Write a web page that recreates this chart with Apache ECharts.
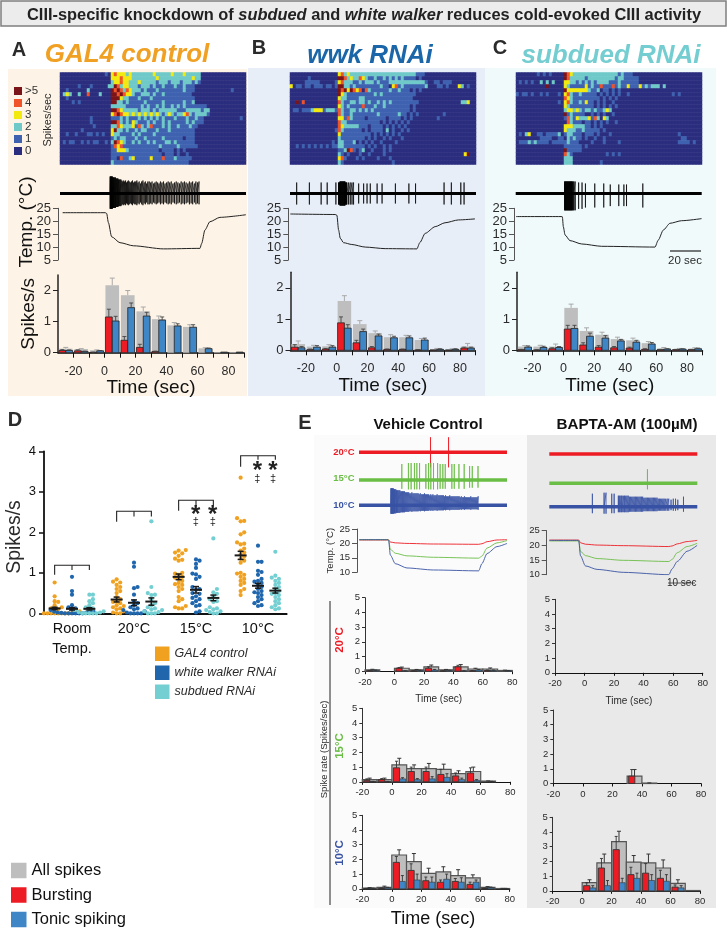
<!DOCTYPE html>
<html>
<head>
<meta charset="utf-8">
<style>
  html, body { margin: 0; padding: 0; background: #fff; }
  #main { width: 727px; height: 929px; }
</style>
<script src="https://cdn.jsdelivr.net/npm/echarts@6/dist/echarts.min.js"></script>
</head>
<body>
<div id="main"></div>
<script>
// heatmaps: one string per fly, one digit per time bin (0..5 spikes/s, 5 means >5)
var heatA = [
  '00000000000000010343332322222223222223222322222',
  '00000000000000000333433322222222322222222222322',
  '00000000000000000233433222322222122212221222121',
  '00000010001000002254233222122212112111211211100',
  '0010000002000000054542432221211121111111121110000000000001',
  '02320020040002000554543321122212112111111111000',
  '00100000000000000555322111211121111111111111100',
  '00001010000000000552212111112111112111111211200',
  '0000000000000000022222111112121121211212121111111',
  '00000000000000000554322222122212122222211122222122',
  '00000000000000000345433232323232321232122342122221',
  '0000000000100000011121211121212121211121112112110000000000001',
  '00000000001000000554212132111212112121111121211100',
  '00000000000100000224322231421241112121121112110',
  '00000001000000000352212112122111211121111111100',
  '00100100011010100322111121211112111111111111100',
  '00000000000000000121221112112111112111111011100',
  '01011001010110010254321121211212111221211111100',
  '00000000000000000143411111111111121111121111110',
  '00000000000000000113332111111111101111010100000',
  '00000000000000000111111111111111110111010010000',
  '00000000000000000110411231111131114111211111000',
  '00000000000000000211111111111111111111111110000'
];
var heatB = [
  '0000000000000000342322222222222222222222221110',
  '0000001000000000554232243211211212121211110100',
  '000001111100000134222112122212111222222222222100110111',
  '301101101110110155221211111111211034121111111200011010003201',
  '0000000000000000545354340421111112112111010100',
  '0000000000000000532111111111212111111111110000',
  '0000000000000000322111122111111111111111100000',
  '005040000000000042112212212112121211111111100000000000000223',
  '0000000000000000321211114111211211111111010000',
  '0110111233312221421122121212111111111111010000',
  '000000000000000042112111111112111111211010100000000100',
  '00000000000000003314211110111111011110101000000001',
  '0000000000000000422111111111110101010101000000',
  '0000000000000000432222211101111010101010000000',
  '0000000000000001421111110101111020100101000000',
  '0000000000000000311111111110101010101000000000',
  '0000000000000000211111111010100101000100000000',
  '0000000000000010221112010101001000010000000000',
  '0010101010101011221111111010100101000000000000',
  '0000000000000000112541012001000101000000000000',
  '000000000000000021010001001000010000000000000000000000000035',
  '0000000000000000341000101000010001000000000000',
  '0000000000000000210000000000000000100000000000'
];
var heatC = [
  '0000000101010000543222222222222222121110000000',
  '0000000000000000542222212222222221221111100000',
  '0101010020202000332212121212222111211111100000',
  '00000000005000003211111312114111412113111312122202',
  '0000000000000000533333332112011010100000000000',
  '101101001010001034211211111010101010010000000000000010100',
  '0000000000000000432111111111010101000000000000',
  '0000000000000010342112131101010010000000000000',
  '0000000000000000321111111101010101000000000000',
  '0000000000000000233232122121123200000000000000',
  '0000000000000000512111100101010010000000000000',
  '0000000000000000142132223142032000000000000000',
  '0000000000000000042111011010101001000000000000',
  '0000000000000000333222211010100000000000000000',
  '0000000000000000322211211111010000000000000000',
  '010230011011112012211101110100010000000000000000000000100000',
  '000000001111001102121101001001000000000000000000000000011000',
  '011121211110111112111000010001000010000000000000000000111101',
  '0000000000000000111111010000000000000000000000',
  '0000000000000000511111000000000000000000000000',
  '0000000000000000421000000000001010100000000000',
  '0000000000000000222000000000000000000000000000',
  '0000000000000000222000000000100000000000000000'
];
var heatColumns = 62;

// extracellular traces: spike times (sec) and spike heights
var spikesA = [3.6,3.9,4.2,4.5,4.8,5.1,5.4,5.7,6,6.3,6.7,7.1,7.5,7.9,8.3,8.7,9.1,9.6,10.1,10.6,11.2,11.8,12.4,13,13.6,14.2,14.8,15.4,16,16.7,17.4,18.1,18.8,19.5,20.2,20.9,21.6,22.4,23.2,24,24.8,25.6,26.4,27.2,28,28.9,29.8,30.7,31.6,32.5,33.4,34.3,35.2,36.1,37.1,38.1,39.1,40.1,41.1,42.1,43.1,44.2,45.2,46.3,47.4,48.4,49.5,50.6,51.6,52.7,53.8,54.8,55.9,56.9,58,59,60,61];
var heightsA = [17,17,17,17,17,17,16,16,16,16,16,16,15,15,15,15,14,14,14,14,13,12,13,12,13,11,12,13,12,11,12,13,11,12,12,13,11,12,10,12,13,11,12,10,12,12,11,12,10,11,12,11,10,12,11,12,10,11,12,11,12,10,11,12,11,10,12,11,12,11,10,12,11,12,10,12,11,12];
var spikesB = [-25.7,-17.5,-9.9,-6,-0.4,1.3,1.6,1.9,2.2,2.5,2.8,3.1,3.4,3.7,4,4.3,4.6,4.9,5.2,5.5,5.8,6.1,6.4,6.7,7.8,8.9,10,11,14.3,17.5,19.7,21.8,26.2,29.4,38,46.7,51,69.4,74.1,80.2,82.3];
var heightsB = [11,11,11,11,11,11,11,11,12,12,12,12,12,12,12,12,12,12,12,12,11,11,11,11,11,11,11,11,10,10,10,10,10,10,10,10,10,11,11,11,11];
var spikesC = [1.5,1.8,2.1,2.4,2.7,3,3.3,3.6,3.9,4.2,4.5,4.8,5.1,5.4,5.7,6,6.3,6.7,7.1,7.6,8.4,10.6,12.8,15,21,26.8,31,36.5,39.8,41.5,52];
var heightsC = [12,12,12,12,12,12,12,12,12,12,12,12,12,12,12,12,12,12,12,12,12,11,11,10,10,10,9,9,9,9,10];
var spikesVeh20 = [28,40];
var heightsVeh20 = [15,15];
var spikesVeh15 = [8.9,13.3,15.1,17.3,18.9,20.7,24.9,26.7,28.2,30,32.7,34.4,36.2,37.8,42.2,43.8,46.9,50.4,54,55.8,59.6];
var heightsVeh15 = [16,17,17,17,17,17,16,17,17,17,17,16,16,16,16,16,16,16,14,14,14];
var spikesVeh10 = [1.6,2,2.4,2.8,3.2,3.6,4,4.4,4.9,5.4,5.9,6.4,7,7.6,8.2,8.8,9.4,10,10.7,11.4,12.1,12.8,13.5,14.2,14.9,15.6,16.3,17,17.7,18.4,19.1,19.8,20.5,21.2,21.9,22.6,23.3,24,24.7,25.4,26.1,26.8,27.5,28.2,28.9,29.6,30.3,31,31.7,32.4,33.1,33.8,34.5,35.2,35.9,36.6,37.3,38,38.7,39.4,40.1,40.8,41.5,42.2,42.9,43.6,44.3,45,45.7,46.4,47.1,47.8,48.5,49.2,49.9,50.6,51.3,52,52.7,53.4,54.1,54.8,55.5,56.2,56.9,57.6,58.3,59,59.7];
var heightsVeh10 = [17,17,17,17,17,16,16,16,16,15,15,15,15,15,14,14,14,14,14,13,13,13,13,12,12,13,12,12,12,12,12,12,11,12,11,11,11,12,11,11,11,11,10,11,10,11,10,10,10,11,10,10,10,10,10,10,9,10,9,9,9,10,9,9,9,9,9,9,9,9,9,8,9,8,8,9,8,8,8,8,8,9,8,8,8,8,8,8,9];
var spikesBap20 = [];
var heightsBap20 = [];
var spikesBap15 = [45.8];
var heightsBap15 = [14];
var spikesBap10 = [9.1,16.9,18.2,22,23.6,26.4,27,27.6,28.4,29,30,30.6,31.4,32.2,33,33.8,34.6,35.4,36.2,37,37.8,38.6,39.4,40.2,41,41.8,42.6,43.4,44.2,45,45.8,46.6,47.4,48.2,49,49.8,50.6,51.4,52.2,53,53.8,54.6,55.4,56.2,57,58,59,60,61.5,63,64.5,66,69.8];
var heightsBap10 = [13,14,14,13,13,11,11,11,11,11,11,11,11,11,11,10,10,10,10,10,10,10,10,10,10,10,10,9,9,9,9,9,9,9,9,9,9,9,9,8,8,8,8,8,8,8,8,8,7,8,8,7,10];

// bath temperature curves
var tempTimeA = [-27,0.5,1.4,2.5,4.6,10,18.6,38,61.6,62.7,64.8,68,74.5,91.2];
var tempA = [23.3,23.3,23,19.5,14,11.7,10.5,9.3,9.5,11.4,16.6,19.8,21.5,22.5];
var tempTimeB = [-30.3,-1.1,0,1.1,2.2,4.3,9.7,18.4,31.4,52,54,57.4,63.9,70.3,79,89.8];
var tempB = [22.8,22.6,22.3,16.6,13.4,11.7,11,10,9.4,9.3,11.8,15.3,17.9,19.4,20.5,20.9];
var tempTimeC = [-30.6,-1.5,-0.6,0,1.1,4.3,11.9,24.8,59.3,61.4,64.7,69,76.5,89.4];
var tempC = [21.8,21.8,21.7,17.9,14.7,12.5,11.2,10.3,10,12.7,16.6,19.2,20.2,21];
var tempTimeE = [-19.6,-0.5,0,1.1,4.4,12.2,30,60,62.2,65.6,72.2,78.9];
var tempVeh20 = [21.2,21.2,21.2,20.5,20.2,20,19.8,19.7,19.9,20.6,21.2,21.3];
var tempVeh15 = [21.3,21.3,21.2,18,16.6,15.7,15.2,14.9,15.6,18.4,20.2,21];
var tempVeh10 = [21.3,21.3,21,16,13,11.5,10.8,10.5,13,16.5,18.9,20];
var tempBap20 = [21.8,21.8,21.8,20.9,20.4,20.1,19.9,19.6,19.8,20.5,21.3,21.7];
var tempBap15 = [21.5,21.5,21.4,18,16.5,15.5,14.9,14.5,15.2,17.5,19.6,20.7];
var tempBap10 = [21.7,21.7,21.5,16.5,13,11.8,10.8,10,12,14.5,18,20];

// spike rate bars, panels A-C (tops of the error bars kept as absolute values)
var bins = [-30,-20,-10,0,10,20,30,40,50,60,70,80];
var allA = [.13,.12,.08,2.17,1.85,1.33,1.08,.88,.83,.14,.02,.02];
var allAErr = [.17,.13,.09,2.4,2,1.47,1.18,.97,.9,.16,.02,.02];
var burstA = [.07,.06,.01,1.15,.4,.17,.04,0,0,0,0,0];
var burstAErr = [.1,.09,.02,1.4,.52,.27,.05,0,0,0,0,0];
var tonicA = [.07,.04,.06,1.02,1.45,1.18,1.05,.86,.82,.13,.02,.02];
var tonicAErr = [.09,.05,.07,1.17,1.6,1.3,1.15,.93,.9,.15,.02,.02];
var allB = [.2,.12,.13,1.58,.84,.55,.42,.42,.33,.04,.03,.12];
var allBErr = [.3,.16,.18,1.75,.95,.62,.5,.48,.38,.06,.05,.22];
var burstB = [.1,.02,.04,.88,.24,.08,.03,.03,.01,.01,.01,.07];
var burstBErr = [.18,.04,.06,1.07,.32,.12,.04,.04,.02,.01,.01,.1];
var tonicB = [.08,.1,.1,.71,.6,.46,.4,.4,.33,.03,.03,.07];
var tonicBErr = [.12,.15,.15,.82,.68,.52,.45,.46,.39,.05,.05,.1];
var allC = [.12,.12,.12,1.36,.62,.5,.36,.32,.23,.06,.04,.05];
var allCErr = [.15,.16,.2,1.48,.72,.58,.42,.39,.28,.09,.06,.08];
var burstC = [.02,.01,.05,.68,.17,.1,.08,.07,.03,.02,.02,.02];
var burstCErr = [.03,.02,.08,.8,.24,.15,.12,.1,.05,.03,.03,.03];
var tonicC = [.1,.09,.09,.7,.45,.39,.3,.26,.2,.04,.04,.05];
var tonicCErr = [.14,.13,.12,.8,.55,.47,.35,.32,.25,.05,.05,.07];

// spike rate bars, panel E
var binsE = [-20,-10,0,10,20,30,40,50,60,70];
var allVeh20 = [.1,0,.2,.1,.3,.1,.3,.15,.15,.05];
var allVeh20Err = [.13,0,.28,.12,.42,.12,.45,.2,.22,.07];
var burstVeh20 = [.03,0,.2,.02,.2,.02,.3,.03,.05,0];
var burstVeh20Err = [.05,0,.25,.03,.3,.03,.4,.05,.08,0];
var tonicVeh20 = [.05,0,.02,.05,.08,.05,.02,.08,.05,.03];
var tonicVeh20Err = [.08,0,.03,.07,.12,.07,.03,.12,.08,.05];
var allVeh15 = [.15,.15,1.15,.9,.9,.85,.55,.7,.05,0];
var allVeh15Err = [.25,.25,1.6,1.15,1.25,1.2,.75,1,.06,0];
var burstVeh15 = [.1,.15,.95,.7,.7,.5,.4,.6,0,0];
var burstVeh15Err = [.2,.22,1.4,1,1,.85,.6,.95,0,0];
var tonicVeh15 = [.02,.02,.2,.15,.2,.3,.15,.1,.02,0];
var tonicVeh15Err = [.03,.03,.28,.22,.35,.55,.25,.15,.03,0];
var allVeh10 = [.05,.1,2.3,1.85,1.05,1.15,.9,.75,.1,.02];
var allVeh10Err = [.08,.18,2.65,2.4,1.4,1.5,1.3,.95,.15,.03];
var burstVeh10 = [.02,.03,1.8,1.25,.55,.45,.5,.3,.03,0];
var burstVeh10Err = [.03,.05,2.2,1.7,.8,.6,.7,.45,.05,0];
var tonicVeh10 = [.03,.07,.5,.6,.45,.65,.45,.45,.08,.02];
var tonicVeh10Err = [.05,.1,.9,1,.8,1,.75,.6,.12,.03];
var allBap20 = [0,0,0,0,0,0,0,0,0,0];
var allBap15 = [0,0,0,0,0,.5,.03,0,0,0];
var allBap15Err = [0,0,0,0,0,.95,.04,0,0,0];
var burstBap15 = [0,0,0,0,0,.5,0,0,0,0];
var burstBap15Err = [0,0,0,0,0,.95,0,0,0,0];
var tonicBap15 = [0,0,0,0,0,0,0,0,0,0];
var allBap10 = [0,0,.55,1.9,3.35,1.95,1.9,1.55,.5,.02];
var allBap10Err = [0,0,.75,2.5,4.05,2.4,2.5,2.1,.75,.02];
var burstBap10 = [0,0,.35,1.55,2.8,1.1,1.2,.85,.25,0];
var burstBap10Err = [0,0,.55,2.2,3.7,1.6,1.85,1.4,.4,0];
var tonicBap10 = [0,0,.2,.35,.55,.85,.7,.65,.2,0];
var tonicBap10Err = [0,0,.35,.7,.85,1.2,1.1,1.1,.35,0];

// panel D, one array per genotype per temperature
var groupLabels = ['Room\nTemp.', '20°C', '15°C', '10°C'];
var gal4Dots = [
  [.76,.42,.3,.28,.2,.15,.12,.1,.1,.08,.05,.05,.03,.02,.02,0,0,0,0,0,0,0,0,0],
  [.84,.78,.76,.7,.65,.6,.55,.5,.4,.35,.3,.28,.25,.2,.18,.15,.12,.1,.05,.02,0,0],
  [1.56,1.55,1.5,1.48,1.42,1.35,1.32,1.3,1,.98,.95,.9,.88,.85,.8,.75,.72,.7,.65,.6,.55,.4,.35,.3,.18,.15,.12,.12],
  [3.35,2.35,2.28,2.27,2,1.95,1.75,1.72,1.7,1.6,1.55,1.5,1.45,1.4,1.35,1.3,1.25,1,.98,.95,.9,.85,.8,.75,.7,.6,.55,.45]
];
var wwkDots = [
  [.9,.55,.46,.2,.15,.12,.1,.08,.05,.04,.03,.02,.02,.01,0,0,0,0,0,0],
  [1.25,1.15,.65,.62,.46,.3,.25,.2,.15,.12,.1,.08,.05,.02,0,0,0,0],
  [1.33,1.3,1.22,1.12,.98,.96,.9,.85,.65,.6,.58,.5,.48,.42,.38,.35,.3,.25,.2,.18,.05,.02],
  [1.67,1.27,1.27,1.05,1.02,.95,.85,.8,.78,.75,.7,.65,.6,.55,.52,.5,.45,.4,.35,.3,.25,.2,.18]
];
var subduedDots = [
  [.46,.46,.35,.3,.25,.2,.15,.12,.1,.08,.05,.03,.02,0,0,0,0,0],
  [2.27,.65,.5,.46,.45,.35,.25,.2,.15,.12,.1,.08,.05,.03,0,0,0],
  [1.85,.6,.52,.48,.42,.35,.3,.28,.15,.12,.1,.08,.05,.03,0,0],
  [1.52,.93,.88,.85,.8,.75,.7,.65,.6,.55,.5,.48,.45,.4,.35,.3,.25,.2,.15,.12,.1]
];
var gal4Mean = [.12,.34,.9,1.43];
var gal4Sem = [.03,.06,.07,.1];
var wwkMean = [.11,.26,.58,.68];
var wwkSem = [.03,.07,.08,.06];
var subduedMean = [.11,.29,.38,.56];
var subduedSem = [.03,.09,.07,.06];
var bracketTop = [1.185,2.52,2.79,3.89];
var bracketLeftEnd = [.95,2.26,2.53,3.62];
var bracketRightEnd = [1.07,2.39,2.67,3.79];

var RED = '#ed1c24', BLUE = '#3f86c6', GRAY = '#bebebe';
var FONT = 'Liberation Sans';
var DARK = '#2b2b2b';

var grids = [], xAxes = [], yAxes = [], series = [], gfx = [];

function addGrid(left, top, width, height, x, y) {
  var i = grids.length;
  grids.push({left: left, top: top, width: width, height: height, containLabel: false});
  x.gridIndex = i; y.gridIndex = i;
  x.axisLine = x.axisLine || {}; x.axisLine.onZero = false;
  y.axisLine = y.axisLine || {}; y.axisLine.onZero = false;
  xAxes.push(x); yAxes.push(y);
  return i;
}
function hiddenValue(min, max) {
  return {type: 'value', min: min, max: max, show: false, splitLine: {show: false}};
}
function txt(text, x, y, size, opt) {
  opt = opt || {};
  gfx.push({
    type: 'text', x: x, y: y, rotation: opt.rotate ? Math.PI / 2 : 0, z: 50,
    style: {
      text: text, fill: opt.color || DARK, textAlign: opt.align || 'center', textVerticalAlign: 'middle',
      fontFamily: FONT, fontSize: size, fontWeight: opt.bold ? 'bold' : 'normal', fontStyle: opt.italic ? 'italic' : 'normal'
    }
  });
}
function bg(x, y, w, h, color) {
  gfx.push({type: 'rect', z: -10, shape: {x: x, y: y, width: w, height: h}, style: {fill: color}});
}
function hline(x1, y1, x2, y2, color, w) {
  gfx.push({type: 'line', z: 50, shape: {x1: x1, y1: y1, x2: x2, y2: y2}, style: {stroke: color, lineWidth: w}});
}

function addHeat(rows, left, top) {
  var cols = [], rowIds = [], data = [];
  for (var c = 0; c < heatColumns; c++) cols.push(c);
  rows.forEach(function (row, r) {
    rowIds.push(r);
    var full = row.padEnd(heatColumns, '0');
    for (var c = 0; c < heatColumns; c++) data.push([c, r, +full[c]]);
  });
  var g = addGrid(left, top, 186, 92,
    {type: 'category', data: cols, show: false},
    {type: 'category', data: rowIds, inverse: true, show: false});
  series.push({type: 'heatmap', xAxisIndex: g, yAxisIndex: g, data: data, silent: true, itemStyle: {borderWidth: 0}, emphasis: {disabled: true}});
  return series.length - 1;
}

function addTrace(times, heights, left, top, width, height, xMin, xMax, center, down, color, baseW, spikeW) {
  var g = addGrid(left, top, width, height, hiddenValue(xMin, xMax), hiddenValue(-(top + height - center), center - top));
  series.push({type: 'line', xAxisIndex: g, yAxisIndex: g, symbol: 'none', silent: true, animation: false,
    lineStyle: {color: color, width: baseW}, data: [[xMin, 0], [xMax, 0]]});
  var pts = [];
  times.forEach(function (t, i) {
    var h = heights[i];
    pts.push([t, 0], [t, h], [t, -h * down], [t, 0]);
  });
  if (pts.length) {
    series.push({type: 'line', xAxisIndex: g, yAxisIndex: g, symbol: 'none', silent: true, z: 3,
      lineStyle: {color: color, width: spikeW}, data: pts});
  }
}

function tempAxisY(min, labelSize, name, gap) {
  return {
    type: 'value', min: min, max: 25, interval: 5, name: name, nameLocation: 'middle', nameGap: gap,
    nameTextStyle: {fontFamily: FONT, fontSize: labelSize, color: DARK},
    axisLine: {show: true, lineStyle: {color: '#555', width: 1}}, axisTick: {show: true, length: 5, lineStyle: {color: '#555'}},
    axisLabel: {fontFamily: FONT, fontSize: labelSize, color: DARK, margin: 7}, splitLine: {show: false}
  };
}

function addCurve(g, times, temps, color, width) {
  series.push({
    type: 'line', xAxisIndex: g, yAxisIndex: g, symbol: 'none', silent: true, smooth: 0.25, smoothMonotone: 'x',
    lineStyle: {color: color, width: width}, data: times.map(function (t, i) { return [t, temps[i]]; })
  });
}

function barItem(from, to, stroke, strokeW, errColor, errW, capHalf) {
  return function (params, api) {
    var t = api.value(0), v = api.value(1), e = api.value(2);
    var children = [];
    if (v > 0) {
      var a = api.coord([t + from, v]), b = api.coord([t + to, 0]);
      children.push({type: 'rect', shape: {x: a[0], y: a[1], width: b[0] - a[0], height: b[1] - a[1]},
        style: {fill: api.visual('color'), stroke: stroke, lineWidth: strokeW}});
      if (e > v) {
        var mid = (from + to) / 2, p = api.coord([t + mid, v]), q = api.coord([t + mid, e]);
        children.push({type: 'polyline', shape: {points: [[p[0], p[1]], [q[0], q[1]]]}, style: {stroke: errColor, lineWidth: errW, fill: null}});
        children.push({type: 'polyline', shape: {points: [[q[0] - capHalf, q[1]], [q[0] + capHalf, q[1]]]}, style: {stroke: errColor, lineWidth: errW, fill: null}});
      }
    }
    return {type: 'group', children: children};
  };
}
function addBars(g, name, binList, vals, errs, color, item) {
  series.push({
    type: 'custom', name: name, xAxisIndex: g, yAxisIndex: g, clip: false, silent: true,
    itemStyle: {color: color}, encode: {x: 0, y: 1}, renderItem: item,
    data: binList.map(function (b, i) { return [b, vals[i], errs ? errs[i] : 0]; })
  });
}

function addTopPanel(o) {
  var heatIdx = addHeat(o.heat, o.heatLeft, 72.5);
  addTrace(o.spikes, o.heights, o.traceLeft, 176, 186, 36, o.traceMin, o.traceMin + 120, 193.5, o.down, '#000', 3, 0.7);
  var tg = addGrid(o.tempLeft, 208.3, o.tempWidth, 51.7, hiddenValue(o.tempMin, o.tempMax), tempAxisY(5, 13, '', 0));
  addCurve(tg, o.tempT, o.temp, '#222', 1);
  var bg_ = addGrid(o.barLeft, o.barTop, o.barWidth, o.barH, {
    type: 'value', min: -30, max: 90, splitLine: {show: false},
    axisLine: {show: true, lineStyle: {color: '#111', width: 1.5}},
    axisTick: {show: true, customValues: [-20,-10,0,10,20,30,40,50,60,70,80,90], length: 5, lineStyle: {color: '#111', width: 1}},
    axisLabel: {customValues: [-20,0,20,40,60,80], fontFamily: FONT, fontSize: 12.5, color: DARK, margin: 12},
    name: 'Time (sec)', nameLocation: 'middle', nameGap: 26, nameTextStyle: {fontFamily: FONT, fontSize: 19, color: '#111'}
  }, {
    type: 'value', min: 0, max: 2.5, splitLine: {show: false},
    axisLine: {show: true, lineStyle: {color: '#222', width: 1.5}},
    axisTick: {show: true, customValues: [0,1,2], length: 5, lineStyle: {color: '#222'}},
    axisLabel: {customValues: [0,1,2], fontFamily: FONT, fontSize: 13, color: DARK, margin: 7},
    name: o.yName || '', nameLocation: 'middle', nameGap: 20, nameTextStyle: {fontFamily: FONT, fontSize: 19, color: '#111'}
  });
  addBars(bg_, 'All spikes', bins, o.all, o.allErr, GRAY, barItem(0.6, 9.4, null, 0, '#a9a9a9', 1, 2.5));
  addBars(bg_, 'Bursting', bins, o.burst, o.burstErr, RED, barItem(0.6, 5, '#222', 0.8, '#444', 0.9, 2));
  addBars(bg_, 'Tonic spiking', bins, o.tonic, o.tonicErr, BLUE, barItem(5, 9.4, '#222', 0.8, '#444', 0.9, 2));
  return heatIdx;
}

// backgrounds
bg(8, 69, 239, 327, '#fdf3e6');
bg(248, 68, 237, 328, '#e8eef8');
bg(485, 68, 231, 328, '#f1fafb');
bg(314, 435, 213, 473, '#fbfbfb');
bg(527, 435, 189, 473, '#e9e9e9');
gfx.push({type: 'rect', z: -5, shape: {x: 1, y: 1, width: 725, height: 25}, style: {fill: '#ececec', stroke: '#7f7f7f', lineWidth: 1.5}});

var heatSeries = [];
heatSeries.push(addTopPanel({
  heat: heatA, heatLeft: 60, traceLeft: 60, spikes: spikesA, heights: heightsA, traceMin: -28.7, down: 0.9,
  tempLeft: 58, tempWidth: 188, tempMin: -30, tempMax: 91.3, tempT: tempTimeA, temp: tempA,
  barLeft: 58, barTop: 275, barWidth: 186, barH: 77.7, all: allA, allErr: allAErr, burst: burstA, burstErr: burstAErr, tonic: tonicA, tonicErr: tonicAErr,
  yName: 'Spikes/s'
}));
heatSeries.push(addTopPanel({
  heat: heatB, heatLeft: 290, traceLeft: 290, spikes: spikesB, heights: heightsB, traceMin: -30, down: 1,
  tempLeft: 288.3, tempWidth: 186.7, tempMin: -31.6, tempMax: 89.8, tempT: tempTimeB, temp: tempB,
  barLeft: 290.5, barTop: 272.3, barWidth: 184.8, barH: 78, all: allB, allErr: allBErr, burst: burstB, burstErr: burstBErr, tonic: tonicB, tonicErr: tonicBErr
}));
heatSeries.push(addTopPanel({
  heat: heatC, heatLeft: 516, traceLeft: 515.7, spikes: spikesC, heights: heightsC, traceMin: -30, down: 1.4,
  tempLeft: 514, tempWidth: 187.7, tempMin: -31.9, tempMax: 89.5, tempT: tempTimeC, temp: tempC,
  barLeft: 517, barTop: 272.3, barWidth: 185.5, barH: 78, all: allC, allErr: allCErr, burst: burstC, burstErr: burstCErr, tonic: tonicC, tonicErr: tonicCErr
}));

// panel E traces
var E_RED = '#ed1c24', E_GREEN = '#6abd45', E_BLUE = '#3953a4';
var traceRows = [
  [spikesVeh20, heightsVeh20, 359, -19.6, 452.3, 1, E_RED, 78.9],
  [spikesVeh15, heightsVeh15, 359, -19.6, 480, 0.55, E_GREEN, 78.9],
  [spikesVeh10, heightsVeh10, 359, -19.6, 505.3, 0.5, E_BLUE, 78.9],
  [spikesBap20, heightsBap20, 549.3, -19.6, 454, 1, E_RED, 79],
  [spikesBap15, heightsBap15, 549.3, -19.6, 483.3, 0.43, E_GREEN, 79],
  [spikesBap10, heightsBap10, 549.3, -19.6, 506.7, 0.5, E_BLUE, 79]
];
traceRows.forEach(function (r) {
  addTrace(r[0], r[1], r[2], r[4] - 18, 148, 36, r[3], r[7], r[4], r[5], r[6], 3.4, 0.8);
});

// panel E temperature
var tv = addGrid(357, 529, 150, 43.3, hiddenValue(-21.1, 78.9), tempAxisY(10, 9.5, 'Temp. (°C)', 20));
addCurve(tv, tempTimeE, tempVeh20, E_RED, 0.9);
addCurve(tv, tempTimeE, tempVeh15, E_GREEN, 0.9);
addCurve(tv, tempTimeE, tempVeh10, E_BLUE, 0.9);
var tb = addGrid(546.7, 530.7, 150.6, 44, hiddenValue(-21.4, 79), tempAxisY(10, 9.5, '', 0));
addCurve(tb, tempTimeE, tempBap20, E_RED, 0.9);
addCurve(tb, tempTimeE, tempBap15, E_GREEN, 0.9);
addCurve(tb, tempTimeE, tempBap10, E_BLUE, 0.9);

// panel E bars
function addRatePanel(left, top, width, name, all, allErr, burst, burstErr, tonic, tonicErr) {
  var g = addGrid(left, top, width, 73.5, {
    type: 'value', min: -20, max: 80, splitLine: {show: false},
    axisLine: {show: true, lineStyle: {color: '#111', width: 1.2}},
    axisTick: {show: true, customValues: [-20,0,20,40,60,80], length: 3, lineStyle: {color: '#111'}},
    axisLabel: {customValues: [-20,0,20,40,60,80], fontFamily: FONT, fontSize: 9.5, color: DARK, margin: 6},
    name: name, nameLocation: 'middle', nameGap: 23, nameTextStyle: {fontFamily: FONT, fontSize: 10, color: DARK}
  }, {
    type: 'value', min: 0, max: 5, interval: 1, splitLine: {show: false},
    axisLine: {show: true, lineStyle: {color: '#333', width: 1}},
    axisTick: {show: true, length: 3, lineStyle: {color: '#333'}},
    axisLabel: {fontFamily: FONT, fontSize: 9.5, color: DARK, margin: 5}
  });
  addBars(g, 'All spikes', binsE, all, allErr, GRAY, barItem(0, 10, '#555', 1.2, '#333', 1, 2));
  if (burst) addBars(g, 'Bursting', binsE, burst, burstErr, RED, barItem(1, 5.2, '#333', 0.9, '#333', 0.9, 1.5));
  if (tonic) addBars(g, 'Tonic spiking', binsE, tonic, tonicErr, BLUE, barItem(5.2, 9.2, '#333', 0.6, '#333', 0.9, 1.5));
}
addRatePanel(365, 597.7, 147.3, 'Time (sec)', allVeh20, allVeh20Err, burstVeh20, burstVeh20Err, tonicVeh20, tonicVeh20Err);
addRatePanel(362.3, 708.3, 148, '', allVeh15, allVeh15Err, burstVeh15, burstVeh15Err, tonicVeh15, tonicVeh15Err);
addRatePanel(362.3, 815.3, 147.4, '', allVeh10, allVeh10Err, burstVeh10, burstVeh10Err, tonicVeh10, tonicVeh10Err);
addRatePanel(555, 599.3, 147.7, 'Time (sec)', allBap20, null, null, null, null, null);
addRatePanel(553.3, 710, 147.7, '', allBap15, allBap15Err, burstBap15, burstBap15Err, tonicBap15, null);
addRatePanel(552.7, 817.3, 147.3, '', allBap10, allBap10Err, burstBap10, burstBap10Err, tonicBap10, tonicBap10Err);

// panel D
var groupPx = 62, memberGap = 0.28, pxPerUnit = 40.5, dotSize = 4.2;
var gD = addGrid(44, 451.3, 242.7, 162, {
  type: 'value', min: -0.4516, max: 3.463, splitLine: {show: false},
  axisLine: {show: true, lineStyle: {color: '#111', width: 1.8}}, axisTick: {show: false},
  axisLabel: {customValues: [0,1,2,3], formatter: function (v) { return groupLabels[v]; },
    fontFamily: FONT, fontSize: 14.5, color: '#111', margin: 6, lineHeight: 20, verticalAlign: 'top'}
}, {
  type: 'value', min: 0, max: 4, interval: 1, splitLine: {show: false},
  axisLine: {show: true, lineStyle: {color: '#111', width: 1.8}},
  axisTick: {show: true, length: 5, lineStyle: {color: '#111', width: 1.5}},
  axisLabel: {fontFamily: FONT, fontSize: 13, color: '#111', margin: 8}
});
// keep dots from sitting on each other, the way the swarm plot in the figure does
function swarm(values, center) {
  var placed = [];
  values.slice().sort(function (a, b) { return a - b; }).forEach(function (v) {
    for (var k = 0; k < 40; k++) {
      var off = (k % 2 ? 1 : -1) * Math.ceil(k / 2) * dotSize * 0.85;
      var clash = placed.some(function (p) {
        var dx = p.off - off, dy = (p.v - v) * pxPerUnit;
        return dx * dx + dy * dy < dotSize * dotSize * 0.65;
      });
      if (!clash) { placed.push({v: v, off: off}); break; }
    }
  });
  return placed.map(function (p) { return [center + p.off / groupPx, p.v]; });
}
var genotypes = [
  {name: 'GAL4 control', color: '#f0a11f', dots: gal4Dots, mean: gal4Mean, sem: gal4Sem, shift: -memberGap},
  {name: 'white walker RNAi', color: '#1f66ad', dots: wwkDots, mean: wwkMean, sem: wwkSem, shift: 0},
  {name: 'subdued RNAi', color: '#73cfd2', dots: subduedDots, mean: subduedMean, sem: subduedSem, shift: memberGap}
];
genotypes.forEach(function (gt) {
  var pts = [];
  gt.dots.forEach(function (vals, g) { pts = pts.concat(swarm(vals, g + gt.shift)); });
  series.push({type: 'scatter', name: gt.name, xAxisIndex: gD, yAxisIndex: gD, symbolSize: dotSize, silent: true,
    itemStyle: {color: gt.color, opacity: 1}, data: pts});
});
genotypes.forEach(function (gt) {
  series.push({
    type: 'custom', xAxisIndex: gD, yAxisIndex: gD, silent: true, z: 5, encode: {x: 0, y: 1},
    data: gt.mean.map(function (m, g) { return [g + gt.shift, m, gt.sem[g]]; }),
    renderItem: function (params, api) {
      var x = api.value(0), m = api.value(1), s = api.value(2);
      var c = api.coord([x, m]), hi = api.coord([x, m + s]), lo = api.coord([x, m - s]);
      var st = {stroke: '#1a1a1a', lineWidth: 1.5, fill: null};
      return {type: 'group', children: [
        {type: 'line', shape: {x1: c[0] - 6, y1: c[1], x2: c[0] + 6, y2: c[1]}, style: {stroke: '#1a1a1a', lineWidth: 2}},
        {type: 'line', shape: {x1: hi[0], y1: hi[1], x2: lo[0], y2: lo[1]}, style: st},
        {type: 'line', shape: {x1: hi[0] - 3, y1: hi[1], x2: hi[0] + 3, y2: hi[1]}, style: st},
        {type: 'line', shape: {x1: lo[0] - 3, y1: lo[1], x2: lo[0] + 3, y2: lo[1]}, style: st}
      ]};
    }
  });
});
series.push({
  type: 'custom', xAxisIndex: gD, yAxisIndex: gD, silent: true, z: 5, clip: false, encode: {x: 0, y: 1},
  data: bracketTop.map(function (top, g) { return [g, top, bracketLeftEnd[g], bracketRightEnd[g]]; }),
  renderItem: function (params, api) {
    var g = api.value(0), top = api.value(1), le = api.value(2), re = api.value(3);
    var a = api.coord([g - memberGap, le]), b = api.coord([g - memberGap, top]), c = api.coord([g + memberGap, top]), d = api.coord([g + memberGap, re]);
    var m1 = api.coord([g, top]), m2 = api.coord([g, re]);
    var st = {stroke: '#222', lineWidth: 1.1, fill: null};
    return {type: 'group', children: [
      {type: 'polyline', shape: {points: [a, b, c, d]}, style: st},
      {type: 'line', shape: {x1: m1[0], y1: m1[1], x2: m2[0], y2: m2[1]}, style: st}
    ]};
  }
});

// title and panel text
gfx.push({
  type: 'text', x: 364, y: 15, z: 50,
  style: {
    text: '{b|CIII-specific knockdown of }{i|subdued}{b| and }{i|white walker}{b| reduces cold-evoked CIII activity}',
    textAlign: 'center', textVerticalAlign: 'middle',
    rich: {
      b: {fontFamily: FONT, fontSize: 16.4, fontWeight: 'bold', fill: '#222', color: '#222'},
      i: {fontFamily: FONT, fontSize: 16.4, fontWeight: 'bold', fontStyle: 'italic', fill: '#222', color: '#222'}
    }
  }
});
txt('A', 19, 50, 20, {bold: true});
txt('B', 259, 48, 20, {bold: true});
txt('C', 500, 48, 20, {bold: true});
txt('D', 15, 420, 20, {bold: true});
txt('E', 305, 423, 20, {bold: true});
txt('GAL4 control', 127, 55, 26, {bold: true, italic: true, color: '#f0a023'});
txt('wwk RNAi', 370, 56, 26, {bold: true, italic: true, color: '#1a66a8'});
txt('subdued RNAi', 611, 56, 26, {bold: true, italic: true, color: '#74cdd0'});
txt('Spikes/sec', 48, 120, 11, {rotate: true});
txt('Temp. (°C)', 27, 222, 19, {rotate: true, color: '#111'});
txt('Spikes/s', 15, 537, 19.5, {rotate: true});
hline(670, 251, 701, 251, '#222', 1.2);
txt('20 sec', 685, 261, 11.5);

txt('Vehicle Control', 428, 425, 15, {bold: true, color: '#111'});
txt('BAPTA-AM (100µM)', 627, 425, 15.2, {bold: true, color: '#111'});
[['20°C', 452.3, E_RED], ['15°C', 478.5, E_GREEN], ['10°C', 505, E_BLUE]].forEach(function (t) {
  txt(t[0], 354.5, t[1], 9.5, {bold: true, color: t[2], align: 'right'});
});
txt('10 sec', 681.7, 583, 10);
hline(668, 583, 695, 583, '#333', 0.8);
hline(330, 601, 330, 905, '#222', 1);
txt('Spike rate (Spikes/sec)', 324, 749.5, 9.5, {rotate: true});
txt('20°C', 340, 640, 11.5, {rotate: true, bold: true, color: E_RED});
txt('15°C', 340, 746, 11.5, {rotate: true, bold: true, color: E_GREEN});
txt('10°C', 340, 853, 11.5, {rotate: true, bold: true, color: E_BLUE});
txt('Time (sec)', 433, 919, 18, {color: '#111'});

// significance marks on panel D
[[195.7, 512, 522], [212.7, 512, 522], [257.3, 468, 479], [273, 468, 479]].forEach(function (m) {
  txt('*', m[0], m[1] + 3, 24, {bold: true, color: '#222'});
  txt('‡', m[0], m[2], 11, {color: '#222'});
});

var option = {
  animation: false,
  backgroundColor: '#fff',
  textStyle: {fontFamily: FONT},
  grid: grids,
  xAxis: xAxes,
  yAxis: yAxes,
  series: series,
  graphic: {elements: gfx},
  legend: [
    {left: 155, top: 646.5, orient: 'vertical', padding: 0, itemWidth: 14.5, itemHeight: 14.5, itemGap: 4.5, selectedMode: false,
      textStyle: {fontFamily: FONT, fontSize: 12.5, fontStyle: 'italic', color: DARK},
      data: [{name: 'GAL4 control', icon: 'rect'}, {name: 'white walker RNAi', icon: 'rect'}, {name: 'subdued RNAi', icon: 'rect'}]},
    {left: 11, top: 862, orient: 'vertical', padding: 0, itemWidth: 15.5, itemHeight: 15.5, itemGap: 7.5, selectedMode: false,
      textStyle: {fontFamily: FONT, fontSize: 16.5, color: '#111'},
      data: [{name: 'All spikes', icon: 'rect'}, {name: 'Bursting', icon: 'rect'}, {name: 'Tonic spiking', icon: 'rect'}]}
  ],
  visualMap: {
    type: 'piecewise', seriesIndex: heatSeries, dimension: 2, left: 14, top: 85, orient: 'vertical', padding: 0,
    itemWidth: 8, itemHeight: 8, itemGap: 0, textGap: 3, itemSymbol: 'rect', selectedMode: false, showLabel: true,
    textStyle: {fontFamily: FONT, fontSize: 11.5, color: '#333'},
    pieces: [
      {value: 5, label: '>5', color: '#7a1418'},
      {value: 4, label: '4', color: '#f0522a'},
      {value: 3, label: '3', color: '#f2e90f'},
      {value: 2, label: '2', color: '#6fc9c8'},
      {value: 1, label: '1', color: '#3f62b0'},
      {value: 0, label: '0', color: '#2b2d7e'}
    ]
  }
};

var chart = echarts.init(document.getElementById('main'), null, {renderer: 'canvas'});
chart.setOption(option);
</script>
</body>
</html>
